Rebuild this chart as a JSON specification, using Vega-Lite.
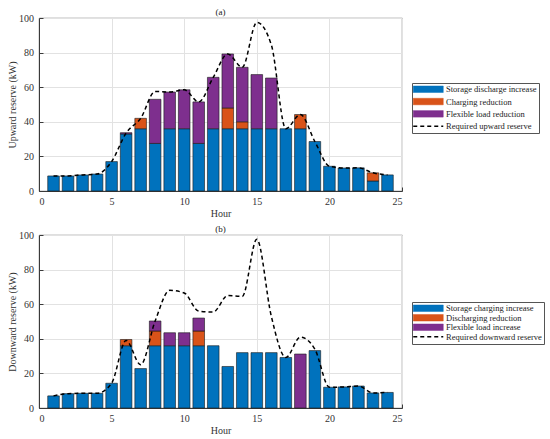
{
  "$schema": "https://vega.github.io/schema/vega-lite/v6.json",
  "padding": {"left": 7, "top": 7, "right": 3, "bottom": 5},
  "background": "white",
  "datasets": {
    "up_bars": [
      {"hour": 1, "series": "Storage discharge increase", "part": 1, "kw": 8.7},
      {"hour": 2, "series": "Storage discharge increase", "part": 1, "kw": 8.7},
      {"hour": 3, "series": "Storage discharge increase", "part": 1, "kw": 9.3},
      {"hour": 4, "series": "Storage discharge increase", "part": 1, "kw": 9.8},
      {"hour": 5, "series": "Storage discharge increase", "part": 1, "kw": 17},
      {"hour": 6, "series": "Storage discharge increase", "part": 1, "kw": 33},
      {"hour": 6, "series": "Flexible load reduction", "part": 3, "kw": 0.7},
      {"hour": 7, "series": "Storage discharge increase", "part": 1, "kw": 36},
      {"hour": 7, "series": "Charging reduction", "part": 2, "kw": 6},
      {"hour": 8, "series": "Storage discharge increase", "part": 1, "kw": 27.5},
      {"hour": 8, "series": "Flexible load reduction", "part": 3, "kw": 25.5},
      {"hour": 9, "series": "Storage discharge increase", "part": 1, "kw": 36},
      {"hour": 9, "series": "Flexible load reduction", "part": 3, "kw": 21.2},
      {"hour": 10, "series": "Storage discharge increase", "part": 1, "kw": 36},
      {"hour": 10, "series": "Flexible load reduction", "part": 3, "kw": 22.5},
      {"hour": 11, "series": "Storage discharge increase", "part": 1, "kw": 27.5},
      {"hour": 11, "series": "Flexible load reduction", "part": 3, "kw": 24},
      {"hour": 12, "series": "Storage discharge increase", "part": 1, "kw": 36},
      {"hour": 12, "series": "Flexible load reduction", "part": 3, "kw": 29.7},
      {"hour": 13, "series": "Storage discharge increase", "part": 1, "kw": 36},
      {"hour": 13, "series": "Charging reduction", "part": 2, "kw": 12},
      {"hour": 13, "series": "Flexible load reduction", "part": 3, "kw": 31.2},
      {"hour": 14, "series": "Storage discharge increase", "part": 1, "kw": 36},
      {"hour": 14, "series": "Charging reduction", "part": 2, "kw": 4},
      {"hour": 14, "series": "Flexible load reduction", "part": 3, "kw": 31.5},
      {"hour": 15, "series": "Storage discharge increase", "part": 1, "kw": 36},
      {"hour": 15, "series": "Flexible load reduction", "part": 3, "kw": 31.3},
      {"hour": 16, "series": "Storage discharge increase", "part": 1, "kw": 36},
      {"hour": 16, "series": "Flexible load reduction", "part": 3, "kw": 29.3},
      {"hour": 17, "series": "Storage discharge increase", "part": 1, "kw": 36},
      {"hour": 18, "series": "Storage discharge increase", "part": 1, "kw": 36},
      {"hour": 18, "series": "Charging reduction", "part": 2, "kw": 8.2},
      {"hour": 19, "series": "Storage discharge increase", "part": 1, "kw": 28.6},
      {"hour": 20, "series": "Storage discharge increase", "part": 1, "kw": 14.3},
      {"hour": 21, "series": "Storage discharge increase", "part": 1, "kw": 13.3},
      {"hour": 22, "series": "Storage discharge increase", "part": 1, "kw": 13.4},
      {"hour": 23, "series": "Storage discharge increase", "part": 1, "kw": 5.8},
      {"hour": 23, "series": "Charging reduction", "part": 2, "kw": 4.7},
      {"hour": 24, "series": "Storage discharge increase", "part": 1, "kw": 9.3}
    ],
    "up_req": [
      {"hour": 1, "series": "Required upward reserve", "kw": 8.7},
      {"hour": 2, "series": "Required upward reserve", "kw": 8.7},
      {"hour": 3, "series": "Required upward reserve", "kw": 9.3},
      {"hour": 4, "series": "Required upward reserve", "kw": 9.8},
      {"hour": 5, "series": "Required upward reserve", "kw": 17},
      {"hour": 6, "series": "Required upward reserve", "kw": 33.5},
      {"hour": 7, "series": "Required upward reserve", "kw": 42},
      {"hour": 8, "series": "Required upward reserve", "kw": 57.5},
      {"hour": 9, "series": "Required upward reserve", "kw": 57.2},
      {"hour": 10, "series": "Required upward reserve", "kw": 58.5},
      {"hour": 11, "series": "Required upward reserve", "kw": 51.5},
      {"hour": 12, "series": "Required upward reserve", "kw": 65.7},
      {"hour": 13, "series": "Required upward reserve", "kw": 79.2},
      {"hour": 14, "series": "Required upward reserve", "kw": 71.5},
      {"hour": 15, "series": "Required upward reserve", "kw": 97.5},
      {"hour": 16, "series": "Required upward reserve", "kw": 84.5},
      {"hour": 17, "series": "Required upward reserve", "kw": 36},
      {"hour": 18, "series": "Required upward reserve", "kw": 44.2},
      {"hour": 19, "series": "Required upward reserve", "kw": 28.6},
      {"hour": 20, "series": "Required upward reserve", "kw": 14.3},
      {"hour": 21, "series": "Required upward reserve", "kw": 13.3},
      {"hour": 22, "series": "Required upward reserve", "kw": 13.4},
      {"hour": 23, "series": "Required upward reserve", "kw": 10.5},
      {"hour": 24, "series": "Required upward reserve", "kw": 9.3}
    ],
    "down_bars": [
      {"hour": 1, "series": "Storage charging increase", "part": 1, "kw": 7},
      {"hour": 2, "series": "Storage charging increase", "part": 1, "kw": 8.3},
      {"hour": 3, "series": "Storage charging increase", "part": 1, "kw": 8.5},
      {"hour": 4, "series": "Storage charging increase", "part": 1, "kw": 8.5},
      {"hour": 5, "series": "Storage charging increase", "part": 1, "kw": 14.3},
      {"hour": 6, "series": "Storage charging increase", "part": 1, "kw": 36},
      {"hour": 6, "series": "Discharging reduction", "part": 2, "kw": 3.6},
      {"hour": 7, "series": "Storage charging increase", "part": 1, "kw": 22.8},
      {"hour": 8, "series": "Storage charging increase", "part": 1, "kw": 36},
      {"hour": 8, "series": "Discharging reduction", "part": 2, "kw": 8.5},
      {"hour": 8, "series": "Flexible load increase", "part": 3, "kw": 5.8},
      {"hour": 9, "series": "Storage charging increase", "part": 1, "kw": 36},
      {"hour": 9, "series": "Flexible load increase", "part": 3, "kw": 7.5},
      {"hour": 10, "series": "Storage charging increase", "part": 1, "kw": 36},
      {"hour": 10, "series": "Flexible load increase", "part": 3, "kw": 7.5},
      {"hour": 11, "series": "Storage charging increase", "part": 1, "kw": 36},
      {"hour": 11, "series": "Discharging reduction", "part": 2, "kw": 8.5},
      {"hour": 11, "series": "Flexible load increase", "part": 3, "kw": 7.5},
      {"hour": 12, "series": "Storage charging increase", "part": 1, "kw": 36},
      {"hour": 13, "series": "Storage charging increase", "part": 1, "kw": 24},
      {"hour": 14, "series": "Storage charging increase", "part": 1, "kw": 32},
      {"hour": 15, "series": "Storage charging increase", "part": 1, "kw": 32},
      {"hour": 16, "series": "Storage charging increase", "part": 1, "kw": 32},
      {"hour": 17, "series": "Storage charging increase", "part": 1, "kw": 29.2},
      {"hour": 18, "series": "Flexible load increase", "part": 3, "kw": 31.2},
      {"hour": 19, "series": "Storage charging increase", "part": 1, "kw": 33.2},
      {"hour": 20, "series": "Storage charging increase", "part": 1, "kw": 12},
      {"hour": 21, "series": "Storage charging increase", "part": 1, "kw": 12.2},
      {"hour": 22, "series": "Storage charging increase", "part": 1, "kw": 12.7},
      {"hour": 23, "series": "Storage charging increase", "part": 1, "kw": 8.7},
      {"hour": 24, "series": "Storage charging increase", "part": 1, "kw": 9}
    ],
    "down_req": [
      {"hour": 1, "series": "Required downward reserve", "kw": 7},
      {"hour": 2, "series": "Required downward reserve", "kw": 8.3},
      {"hour": 3, "series": "Required downward reserve", "kw": 8.5},
      {"hour": 4, "series": "Required downward reserve", "kw": 8.5},
      {"hour": 5, "series": "Required downward reserve", "kw": 14.3},
      {"hour": 6, "series": "Required downward reserve", "kw": 39},
      {"hour": 7, "series": "Required downward reserve", "kw": 25},
      {"hour": 8, "series": "Required downward reserve", "kw": 50.3},
      {"hour": 9, "series": "Required downward reserve", "kw": 68},
      {"hour": 10, "series": "Required downward reserve", "kw": 66.5},
      {"hour": 11, "series": "Required downward reserve", "kw": 56},
      {"hour": 12, "series": "Required downward reserve", "kw": 55.5},
      {"hour": 13, "series": "Required downward reserve", "kw": 65},
      {"hour": 14, "series": "Required downward reserve", "kw": 64.5},
      {"hour": 15, "series": "Required downward reserve", "kw": 97.5},
      {"hour": 16, "series": "Required downward reserve", "kw": 53},
      {"hour": 17, "series": "Required downward reserve", "kw": 29.2},
      {"hour": 18, "series": "Required downward reserve", "kw": 41},
      {"hour": 19, "series": "Required downward reserve", "kw": 34},
      {"hour": 20, "series": "Required downward reserve", "kw": 12},
      {"hour": 21, "series": "Required downward reserve", "kw": 12.2},
      {"hour": 22, "series": "Required downward reserve", "kw": 12.7},
      {"hour": 23, "series": "Required downward reserve", "kw": 8.7},
      {"hour": 24, "series": "Required downward reserve", "kw": 9}
    ]
  },
  "config": {
    "font": "Liberation Serif",
    "view": {"stroke": "#3a3a3a", "strokeWidth": 0.8},
    "axis": {
      "labelFont": "Liberation Serif", "titleFont": "Liberation Serif",
      "labelFontSize": 10, "titleFontSize": 10, "titleFontWeight": "normal",
      "labelColor": "#333", "titleColor": "#333", "labelOverlap": false,
      "domainColor": "#3a3a3a", "tickColor": "#3a3a3a", "tickSize": -4,
      "gridColor": "#e2e2e2", "titlePadding": 2
    },
    "axisX": {"labelPadding": 9},
    "axisY": {"labelPadding": 9.5, "titlePadding": 1},
    "title": {"font": "Liberation Serif", "fontSize": 9, "fontWeight": "normal", "color": "#222", "frame": "group", "offset": -4},
    "legend": {
      "orient": "none", "labelFont": "Liberation Serif", "labelFontSize": 8.5, "labelColor": "#222",
      "strokeColor": "#555", "fillColor": "white", "padding": 2, "symbolSize": 100, "labelOffset": 23.5,
      "labelLimit": 200
    }
  },
  "spacing": 5,
  "resolve": {"scale": {"color": "independent"}, "legend": {"color": "independent"}},
  "vconcat": [
    {
      "width": 363, "height": 173,
      "title": "(a)",
      "layer": [
        {
          "data": {"name": "up_bars"},
          "mark": {"type": "bar", "width": 11.6, "stroke": "#1a1a1a", "strokeWidth": 0.6},
          "encoding": {
            "x": {"field": "hour", "type": "quantitative", "scale": {"domain": [0, 25], "padding": 0, "nice": false}, "axis": {"values": [0, 5, 10, 15, 20, 25], "title": "Hour"}},
            "y": {"field": "kw", "type": "quantitative", "stack": "zero", "scale": {"domain": [0, 100], "padding": 0, "nice": false}, "axis": {"values": [0, 20, 40, 60, 80, 100], "title": "Upward reserve (kW)"}},
            "order": {"field": "part", "type": "quantitative", "sort": "ascending"},
            "color": {
              "field": "series", "type": "nominal",
              "scale": {"domain": ["Storage discharge increase", "Charging reduction", "Flexible load reduction", "Required upward reserve"], "range": ["#0072BD", "#D95319", "#7E2F8E", "#000000"]},
              "legend": {
                "title": null, "legendX": 373, "legendY": 65, "rowPadding": 3.3, "symbolSize": 100,
                "symbolType": {"expr": "datum.value === 'Required upward reserve' ? 'M-1,0H5' : 'M-1,-0.65H5V0.65H-1Z'"},
                "symbolDash": {"expr": "datum.value === 'Required upward reserve' ? [4, 3] : [1, 0]"},
                "symbolStrokeWidth": {"expr": "datum.value === 'Required upward reserve' ? 1.5 : 0.5"}
              }
            }
          }
        },
        {
          "data": {"name": "up_req"},
          "mark": {"type": "line", "strokeDash": [4, 3], "strokeWidth": 1.5, "interpolate": "monotone"},
          "encoding": {
            "x": {"field": "hour", "type": "quantitative", "axis": {"values": [0, 5, 10, 15, 20, 25], "title": "Hour"}},
            "y": {"field": "kw", "type": "quantitative", "axis": {"values": [0, 20, 40, 60, 80, 100], "title": "Upward reserve (kW)"}},
            "color": {"field": "series", "type": "nominal", "legend": null}
          }
        }
      ]
    },
    {
      "width": 363, "height": 173,
      "title": "(b)",
      "layer": [
        {
          "data": {"name": "down_bars"},
          "mark": {"type": "bar", "width": 11.6, "stroke": "#1a1a1a", "strokeWidth": 0.6},
          "encoding": {
            "x": {"field": "hour", "type": "quantitative", "scale": {"domain": [0, 25], "padding": 0, "nice": false}, "axis": {"values": [0, 5, 10, 15, 20, 25], "title": "Hour"}},
            "y": {"field": "kw", "type": "quantitative", "stack": "zero", "scale": {"domain": [0, 100], "padding": 0, "nice": false}, "axis": {"values": [0, 20, 40, 60, 80, 100], "title": "Downward reserve (kW)"}},
            "order": {"field": "part", "type": "quantitative", "sort": "ascending"},
            "color": {
              "field": "series", "type": "nominal",
              "scale": {"domain": ["Storage charging increase", "Discharging reduction", "Flexible load increase", "Required downward reserve"], "range": ["#0072BD", "#D95319", "#7E2F8E", "#000000"]},
              "legend": {
                "title": null, "legendX": 373, "legendY": 67, "rowPadding": 0.5, "symbolSize": 100,
                "symbolType": {"expr": "datum.value === 'Required downward reserve' ? 'M-1,0H5' : 'M-1,-0.65H5V0.65H-1Z'"},
                "symbolDash": {"expr": "datum.value === 'Required downward reserve' ? [4, 3] : [1, 0]"},
                "symbolStrokeWidth": {"expr": "datum.value === 'Required downward reserve' ? 1.5 : 0.5"}
              }
            }
          }
        },
        {
          "data": {"name": "down_req"},
          "mark": {"type": "line", "strokeDash": [4, 3], "strokeWidth": 1.5, "interpolate": "monotone"},
          "encoding": {
            "x": {"field": "hour", "type": "quantitative", "axis": {"values": [0, 5, 10, 15, 20, 25], "title": "Hour"}},
            "y": {"field": "kw", "type": "quantitative", "axis": {"values": [0, 20, 40, 60, 80, 100], "title": "Downward reserve (kW)"}},
            "color": {"field": "series", "type": "nominal", "legend": null}
          }
        }
      ]
    }
  ]
}
